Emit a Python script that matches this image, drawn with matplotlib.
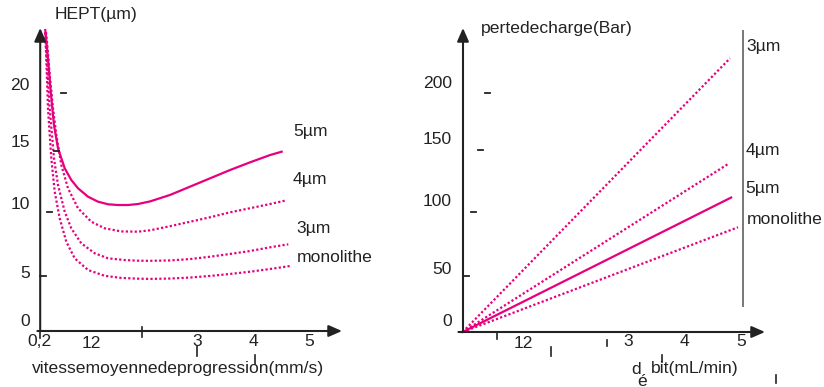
import matplotlib
matplotlib.use("Agg")
import matplotlib.pyplot as plt

plt.rcParams['font.family'] = ['Liberation Sans', 'DejaVu Sans']

W, H = 824, 387
PINK = '#e6007e'
INK = '#222222'
FS = 12.6

# --- panneau gauche : HEPT vs vitesse moyenne (mm/s) ---
v_5um = [0.291, 0.339, 0.388, 0.446, 0.518, 0.638, 0.755, 0.875, 1.054, 1.232, 1.411,
         1.589, 1.768, 1.946, 2.161, 2.518, 2.875, 3.232, 3.589, 3.946, 4.304, 4.512]
h_5um = [24.27, 21.99, 19.30, 16.61, 14.73, 13.12, 12.18, 11.51, 10.83, 10.43, 10.22,
         10.16, 10.16, 10.24, 10.45, 10.97, 11.64, 12.31, 12.98, 13.60, 14.19, 14.46]
v_4um = [0.304, 0.327, 0.37, 0.429, 0.488, 0.577, 0.696, 0.875, 1.113, 1.352, 1.648,
         1.946, 2.161, 2.518, 2.875, 3.232, 3.589, 3.946, 4.304, 4.571]
h_4um = [24.1, 23.06, 20.65, 17.96, 15.81, 13.39, 11.51, 9.90, 8.81, 8.28, 8.03,
         8.01, 8.12, 8.45, 8.81, 9.17, 9.57, 9.90, 10.24, 10.51]
v_3um = [0.295, 0.316, 0.37, 0.446, 0.518, 0.638, 0.755, 0.934, 1.173, 1.411, 1.709,
         1.946, 2.161, 2.518, 2.875, 3.232, 3.589, 3.946, 4.304, 4.63]
h_3um = [24.0, 21.99, 17.96, 13.93, 11.77, 9.62, 8.28, 7.07, 6.27, 5.86, 5.72,
         5.67, 5.66, 5.69, 5.80, 5.99, 6.21, 6.45, 6.75, 6.99]
v_mono = [0.286, 0.304, 0.339, 0.398, 0.459, 0.548, 0.666, 0.816, 1.054, 1.352, 1.648,
          1.946, 2.161, 2.518, 2.875, 3.232, 3.589, 3.946, 4.304, 4.661]
h_mono = [24.1, 22.52, 17.96, 13.93, 11.23, 9.09, 7.20, 5.86, 4.92, 4.45, 4.28,
          4.22, 4.20, 4.23, 4.31, 4.44, 4.60, 4.78, 5.00, 5.24]

left_ylabels = ['0', '5', '10', '15', '20']
left_xlabels = ['0,2', '12', '3', '4', '5']
left_series = ['5µm', '4µm', '3µm', 'monolithe']

# --- panneau droit : perte de charge vs débit (mL/min) ---
q_start = 0.1
q_end = [4.79, 4.75, 4.81, 4.93]
dp_end = [230, 141, 113, 88]
right_series = ['3µm', '4µm', '5µm', 'monolithe']
right_styles = ['dot', 'dot', 'solid', 'dot']

right_ylabels = ['0', '50', '100', '150', '200']
right_xlabels = ['12', '3', '4', '5']


def P(x, y):
    # position en pixels (origine en haut à gauche) -> fraction de figure
    return (x / W, 1 - y / H)


def put(x, y, s, ha='left', va='center', **kw):
    fig.text(*P(x, y), s, ha=ha, va=va, fontsize=kw.pop('fontsize', FS),
             color=kw.pop('color', INK), **kw)


fig = plt.figure(figsize=(W / 100, H / 100), dpi=100)

# axe gauche : px = 29 + 56*x ; py = 331 - 12.4*y
axL = fig.add_axes([0, 0, 400 / W, 1])
axL.set_xlim((0 - 29) / 56, (400 - 29) / 56)
axL.set_ylim((331 - 387) / 12.4, (331 - 0) / 12.4)
axL.axis('off')

dots = dict(color=PINK, lw=1.6, linestyle=(0, (1, 1)))
axL.plot(v_5um, h_5um, color=PINK, lw=1.6)
axL.plot(v_4um, h_4um, **dots)
axL.plot(v_3um, h_3um, **dots)
axL.plot(v_mono, h_mono, **dots)

arrow = dict(arrowstyle='-|>,head_width=0.35,head_length=0.8', color=INK, lw=1.5,
             shrinkA=0, shrinkB=0)
x0L, y0L = 0.2, 0.0
axL.annotate('', xy=(x0L, (331 - 28) / 12.4), xytext=(x0L, y0L), arrowprops=arrow)
axL.annotate('', xy=((342 - 29) / 56, y0L), xytext=(x0L - 0.05, y0L), arrowprops=arrow)

# petits traits mal placés (comme dans la figure d'origine)
for (xa, xb, y) in [(61, 66, 93), (54, 59, 151), (47, 52, 212), (40, 46, 276)]:
    axL.plot([(xa - 29) / 56, (xb - 29) / 56], [(331 - y) / 12.4] * 2, color=INK, lw=1.3)
for (x, ya, yb) in [(142, 327, 337), (40, 331, 338), (197, 346, 356), (255, 355, 364)]:
    axL.plot([(x - 29) / 56] * 2, [(331 - ya) / 12.4, (331 - yb) / 12.4], color=INK, lw=1.2)

for s, (x, y) in zip(left_ylabels, [(30, 322), (30, 273), (30, 204), (30, 142), (30, 86)]):
    put(x, y, s, ha='right')
for s, (x, y) in zip(left_xlabels, [(39, 342), (91, 343), (197, 342), (254, 342), (309, 342)]):
    put(x, y, s, ha='center')
put(55, 15, 'HEPT(µm)')
put(32, 369, 'vitessemoyennedeprogression(mm/s)')
for s, (x, y) in zip(left_series, [(293, 132), (293, 180), (296, 228), (297, 257)]):
    put(x, y, s)

# axe droit : px = 457 + 57*x ; py = 332 - 1.19*y
axR = fig.add_axes([410 / W, 0, 414 / W, 1])
axR.set_xlim((410 - 457) / 57, (824 - 457) / 57)
axR.set_ylim((332 - 387) / 1.19, (332 - 0) / 1.19)
axR.axis('off')

for xe, ye, st in zip(q_end, dp_end, right_styles):
    if st == 'solid':
        axR.plot([q_start, xe], [0, ye], color=PINK, lw=1.6)
    else:
        axR.plot([q_start, xe], [0, ye], **dots)

x0R = (463 - 457) / 57
axR.annotate('', xy=(x0R, (332 - 28) / 1.19), xytext=(x0R, 0), arrowprops=arrow)
axR.annotate('', xy=((765 - 457) / 57, 0), xytext=(x0R - 0.08, 0), arrowprops=arrow)

# ligne grise verticale
axR.plot([(743 - 457) / 57] * 2, [(332 - 31) / 1.19, (332 - 306) / 1.19], color='#777777', lw=1.4)

for (xa, xb, y) in [(485, 490, 93), (478, 483, 150), (471, 476, 212), (463, 469, 276)]:
    axR.plot([(xa - 457) / 57, (xb - 457) / 57], [(332 - y) / 1.19] * 2, color=INK, lw=1.3)
for (x, ya, yb) in [(497, 332, 339), (551, 347, 356), (607, 340, 346), (662, 355, 362), (776, 375, 383)]:
    axR.plot([(x - 457) / 57] * 2, [(332 - ya) / 1.19, (332 - yb) / 1.19], color=INK, lw=1.2)

for s, (x, y) in zip(right_ylabels, [(452, 322), (452, 270), (452, 202), (452, 140), (452, 84)]):
    put(x, y, s, ha='right')
for s, (x, y) in zip(right_xlabels, [(523, 343), (628, 342), (685, 342), (741, 342)]):
    put(x, y, s, ha='center')
put(481, 28, 'pertedecharge(Bar)')
put(631, 369, 'd')
put(642, 381, 'é', ha='center')
put(651, 369, 'bit(mL/min)')
for s, (x, y) in zip(right_series, [(746, 47), (746, 150), (745, 188), (747, 219)]):
    put(x, y, s)

fig.savefig('out.png', dpi=100, facecolor='white')
